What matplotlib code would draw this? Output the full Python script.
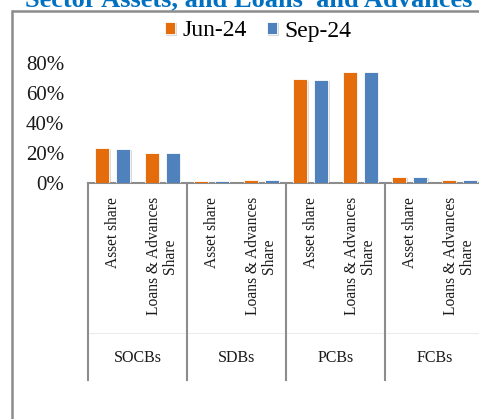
#!/usr/bin/env python3

import numpy as np
import matplotlib.pyplot as plt
import matplotlib.patheffects as pe
from matplotlib.lines import Line2D
from matplotlib.transforms import blended_transform_factory

plt.rcParams['font.family'] = ['Liberation Serif', 'DejaVu Serif']

groups = ["SOCBs", "SDBs", "PCBs", "FCBs"]
measures = ["Asset share", "Loans & Advances\nShare"]
series = ["Jun-24", "Sep-24"]
jun_24 = [23.2, 20.1, 1.5, 1.8, 69.2, 74.0, 4.2, 2.2]
sep_24 = [23.0, 20.0, 1.4, 1.8, 69.0, 74.2, 4.3, 2.2]
colors = ["#E46C0A", "#4F81BD"]

W, H = 479, 419
fig = plt.figure(figsize=(W / 100, H / 100), dpi=100)

# plot area in pixels: left 88, right ~484 (runs off the image), y0 at 183, 80% at 63
ax = fig.add_axes([88 / W, 1 - 183 / H, 396 / W, 120 / H])

x = np.arange(len(jun_24))
width = 0.28
shadow = [pe.SimplePatchShadow(offset=(1.2, -1.2), shadow_rgbFace="#999999", alpha=0.35),
          pe.Normal()]
for vals, off, col, lab in [(jun_24, -0.21, colors[0], series[0]),
                            (sep_24, 0.21, colors[1], series[1])]:
    bars = ax.bar(x + off, np.array(vals) / 100, width, color=col, label=lab,
                  edgecolor="white", linewidth=0.6, zorder=3)
    for b in bars:
        b.set_path_effects(shadow)

ax.set_xlim(-0.5, len(x) - 0.5)
ax.set_ylim(0, 0.8)
ax.set_yticks([0, 0.2, 0.4, 0.6, 0.8])
ax.set_yticklabels(["0%", "20%", "40%", "60%", "80%"])
ax.tick_params(axis="y", length=0, labelsize=15, pad=17, colors="#1a1a1a")
ax.set_xticks([])
for s in ["top", "right", "left"]:
    ax.spines[s].set_visible(False)
ax.spines["bottom"].set_color("#8c8c8c")
ax.spines["bottom"].set_linewidth(1.5)

# multi-level category axis; separators drawn only inside the picture
tr = blended_transform_factory(ax.transData, ax.transAxes)
for i, xi in enumerate(x):
    ax.text(xi, -0.115, measures[i % 2], rotation=90, ha="center", va="top",
            multialignment="center", fontsize=11.2, linespacing=1.0,
            transform=tr, color="#1a1a1a")
for g, name in enumerate(groups):
    ax.text(2 * g + 0.5, -1.458, name, ha="center", va="center",
            fontsize=11.5, transform=tr, color="#1a1a1a")
    ax.plot([2 * g - 0.5, 2 * g + 1.5], [-1.25, -1.25], color="#ececec",
            lw=0.8, transform=tr, clip_on=False)
for k in range(len(groups)):
    ax.plot([2 * k - 0.5, 2 * k - 0.5], [0, -1.642], color="#8c8c8c", lw=1.5,
            transform=tr, clip_on=False)

fig.legend(loc="center", bbox_to_anchor=(258 / W, 1 - 31 / H), ncol=2,
           frameon=False, fontsize=17, handlelength=0.45, handleheight=0.45,
           handletextpad=0.3, columnspacing=0.85)

# chart border (left and top edges; the rest runs off the image)
fig.add_artist(Line2D([12 / W, 12 / W], [0.0, 1 - 11 / H],
                      transform=fig.transFigure, color="#8c8c8c", linewidth=1.8))
fig.add_artist(Line2D([12 / W, 1.0], [1 - 11 / H, 1 - 11 / H],
                      transform=fig.transFigure, color="#8c8c8c", linewidth=1.8,
                      solid_capstyle="butt"))

fig.text(25 / W, 1 - 6 / H, "Sector Assets, and Loans  and Advances",
         color="#0070C0", fontsize=19, fontweight="bold", va="baseline")

fig.savefig("out.png", dpi=100)
